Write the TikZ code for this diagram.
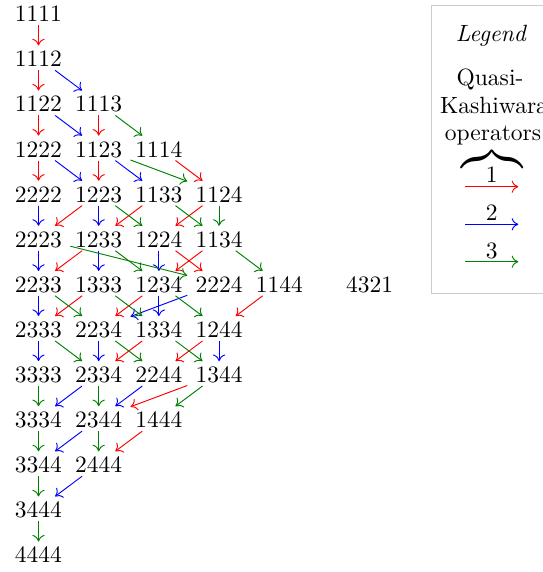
\documentclass[tikz,border=0pt]{standalone}
\usepackage{graphicx}
\usetikzlibrary{arrows.meta}
\definecolor{cA}{RGB}{255,0,0}
\definecolor{cB}{RGB}{0,0,255}
\definecolor{cC}{RGB}{0,128,0}
\definecolor{boxgray}{RGB}{204,204,204}
\begin{document}
\begin{tikzpicture}[x=0.42553pt,y=-0.42553pt,
  st/.style={anchor=base, text height=7.6pt, text depth=0pt, inner xsep=3.33pt, inner ysep=1.3pt},
  lg/.style={anchor=base, inner sep=0pt},
  ar/.style={-{Computer Modern Rightarrow[length=2.8pt,width=5.2pt]}},
  ra/.style={ar,cA}, ba/.style={ar,cB}, ga/.style={ar,cC}]
\useasboundingbox (0,0) rectangle (543,572);
\clip (0,0) rectangle (543,572);
% nodes
\node[st] (n1111) at (38.5,21.7) {1111};
\node[st] (n1112) at (38.5,66.8) {1112};
\node[st] (n1122) at (38.5,111.9) {1122};
\node[st] (n1113) at (98.7,111.9) {1113};
\node[st] (n1222) at (38.5,157.0) {1222};
\node[st] (n1123) at (98.7,157.0) {1123};
\node[st] (n1114) at (158.9,157.0) {1114};
\node[st] (n2222) at (38.5,202.1) {2222};
\node[st] (n1223) at (98.7,202.1) {1223};
\node[st] (n1133) at (158.9,202.1) {1133};
\node[st] (n1124) at (219.1,202.1) {1124};
\node[st] (n2223) at (38.5,247.2) {2223};
\node[st] (n1233) at (98.7,247.2) {1233};
\node[st] (n1224) at (158.9,247.2) {1224};
\node[st] (n1134) at (219.1,247.2) {1134};
\node[st] (n2233) at (38.5,292.3) {2233};
\node[st] (n1333) at (98.7,292.3) {1333};
\node[st] (n1234) at (158.9,292.3) {1234};
\node[st] (n2224) at (219.1,292.3) {2224};
\node[st] (n1144) at (279.3,292.3) {1144};
\node[st] (n4321) at (369.6,292.3) {4321};
\node[st] (n2333) at (38.5,337.4) {2333};
\node[st] (n2234) at (98.7,337.4) {2234};
\node[st] (n1334) at (158.9,337.4) {1334};
\node[st] (n1244) at (219.1,337.4) {1244};
\node[st] (n3333) at (38.5,382.5) {3333};
\node[st] (n2334) at (98.7,382.5) {2334};
\node[st] (n2244) at (158.9,382.5) {2244};
\node[st] (n1344) at (219.1,382.5) {1344};
\node[st] (n3334) at (38.5,427.6) {3334};
\node[st] (n2344) at (98.7,427.6) {2344};
\node[st] (n1444) at (158.9,427.6) {1444};
\node[st] (n3344) at (38.5,472.7) {3344};
\node[st] (n2444) at (98.7,472.7) {2444};
\node[st] (n3444) at (38.5,517.8) {3444};
\node[st] (n4444) at (38.5,562.9) {4444};
% operator 1 (red)
\foreach \a/\b in {1111/1112,1112/1122,1122/1222,1113/1123,1222/2222,1123/1223,1114/1124,
  1223/2223,1133/1233,1124/1224,1233/2233,1224/2224,1134/1234,1333/2333,1234/2234,
  1144/1244,1334/2334,1244/2244,1344/2344,1444/2444}
  \draw[ra] (n\a) -- (n\b);
% operator 2 (blue)
\foreach \a/\b in {1112/1113,1122/1123,1222/1223,1123/1133,2222/2223,1223/1233,2223/2233,
  1233/1333,1224/1234,2233/2333,1234/1334,2224/2234,2333/3333,2234/2334,1244/1344,
  2334/3334,2244/2344,2344/3344,2444/3444}
  \draw[ba] (n\a) -- (n\b);
% operator 3 (green)
\foreach \a/\b in {1113/1114,1123/1124,1223/1224,1133/1134,1124/1134,2223/2224,1233/1234,
  1134/1144,2233/2234,1333/1334,1234/1244,2333/2334,2234/2244,1334/1344,3333/3334,
  2334/2344,1344/1444,3334/3344,2344/2444,3344/3444,3444/4444}
  \draw[ga] (n\a) -- (n\b);
% legend
\draw[boxgray] (431,5) rectangle (560,293);
\node[lg] (legtitle) at (491.5,41) {\textit{Legend}};
\node[lg] (legq) at (490,85) {Quasi-};
\node[lg] (legk) at (494,113) {Kashiwara};
\node[lg] (lego) at (493,140) {operators};
\node[inner sep=0pt, anchor=north] (brace) at (492,146.5) {\scalebox{1.45}{$\overbrace{\hbox to 17.9pt{}}$}};
\node[lg] (lab1) at (491.7,182.7) {1};
\node[lg] (lab2) at (491.7,220) {2};
\node[lg] (lab3) at (491.7,258.3) {3};
\coordinate (a1s) at (465,186.7); \coordinate (a1e) at (518.3,186.7);
\coordinate (a2s) at (465,224.3); \coordinate (a2e) at (518.3,224.3);
\coordinate (a3s) at (465,261.7); \coordinate (a3e) at (518.3,261.7);
\draw[ra] (a1s) -- (a1e);
\draw[ba] (a2s) -- (a2e);
\draw[ga] (a3s) -- (a3e);
\end{tikzpicture}
\end{document}
